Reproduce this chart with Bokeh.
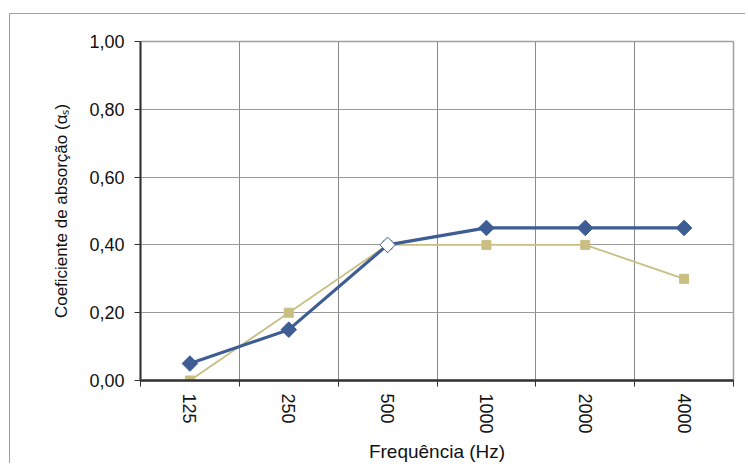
import math
from bokeh.plotting import figure
from bokeh.models import FixedTicker, ColumnDataSource, Range1d
from bokeh.embed import file_html
from bokeh.resources import INLINE

freqs = ["125", "250", "500", "1000", "2000", "4000"]
serie_a = [0.05, 0.15, 0.40, 0.45, 0.45, 0.45]
serie_b = [0.00, 0.20, 0.40, 0.40, 0.40, 0.30]
y_ticks = [0.0, 0.2, 0.4, 0.6, 0.8, 1.0]
y_tick_labels = ["0,00", "0,20", "0,40", "0,60", "0,80", "1,00"]

xpos = [i + 0.5 for i in range(len(freqs))]
bounds = list(range(len(freqs) + 1))

FONT = "Liberation Sans"

p = figure(width=736, height=450, output_backend="svg", toolbar_location=None,
           x_range=Range1d(0, len(freqs)), y_range=Range1d(0, 1.0),
           min_border_left=130, min_border_top=27, min_border_right=13, min_border_bottom=81,
           styles={"border-top": "1.5px solid #a0a0a0", "border-left": "1.5px solid #a0a0a0",
                   "margin-left": "9px", "margin-top": "13px"})

p.outline_line_color = "#a0a0a0"
p.outline_line_width = 1.5

# grids
p.xgrid.ticker = FixedTicker(ticks=bounds[1:])
p.xgrid.grid_line_color = "#8a8a8a"
p.xgrid.grid_line_width = 1
p.ygrid.ticker = FixedTicker(ticks=y_ticks)
p.ygrid.grid_line_color = "#9a9a9a"
p.ygrid.grid_line_width = 1

# x axis
p.xaxis.ticker = FixedTicker(ticks=xpos, minor_ticks=bounds)
p.xaxis.major_label_overrides = {xv: f for xv, f in zip(xpos, freqs)}
p.xaxis.major_tick_in = 0
p.xaxis.major_tick_out = 0
p.xaxis.minor_tick_in = 0
p.xaxis.minor_tick_out = 6
p.xaxis.minor_tick_line_color = "#333333"
p.xaxis.major_label_orientation = "vertical"
p.xaxis.major_label_standoff = 7
p.xaxis.axis_line_color = "#333333"
p.xaxis.axis_line_width = 2.5
p.xaxis.axis_label = "Frequência (Hz)"
p.xaxis.axis_label_standoff = 4

# y axis
p.yaxis.ticker = FixedTicker(ticks=y_ticks)
p.yaxis.major_label_overrides = {t: l for t, l in zip(y_ticks, y_tick_labels)}
p.yaxis.major_tick_in = 0
p.yaxis.major_tick_out = 6
p.yaxis.minor_tick_line_color = None
p.yaxis.axis_line_color = "#333333"
p.yaxis.axis_line_width = 2
p.yaxis.major_tick_line_color = "#333333"
p.yaxis.major_label_standoff = 10
p.yaxis.axis_label = "Coeficiente de absorção (αₛ)"
p.yaxis.axis_label_standoff = 15

for ax in (p.xaxis, p.yaxis):
    ax.major_label_text_font = FONT
    ax.major_label_text_color = "#111111"
    ax.axis_label_text_font = FONT
    ax.axis_label_text_font_style = "normal"
    ax.axis_label_text_color = "#111111"
p.xaxis.major_label_text_font_size = "18px"
p.yaxis.major_label_text_font_size = "18px"
p.xaxis.axis_label_text_font_size = "19px"
p.yaxis.axis_label_text_font_size = "17px"

blue = "#3d5d94"
tan = "#c9bf82"

src = ColumnDataSource(dict(x=xpos, a=serie_a, b=serie_b,
                            afill=[blue, blue, "white", blue, blue, blue]))

p.line("x", "b", source=src, line_color=tan, line_width=1.8)
p.scatter("x", "b", source=src, marker="square", size=9, fill_color=tan, line_color=tan)
p.line("x", "a", source=src, line_color=blue, line_width=3.2)
p.scatter("x", "a", source=src, marker="square", angle=math.pi / 4, size=11,
          fill_color="afill", line_color=blue, line_width=1)

open("out.html", "w").write(file_html(p, INLINE))
